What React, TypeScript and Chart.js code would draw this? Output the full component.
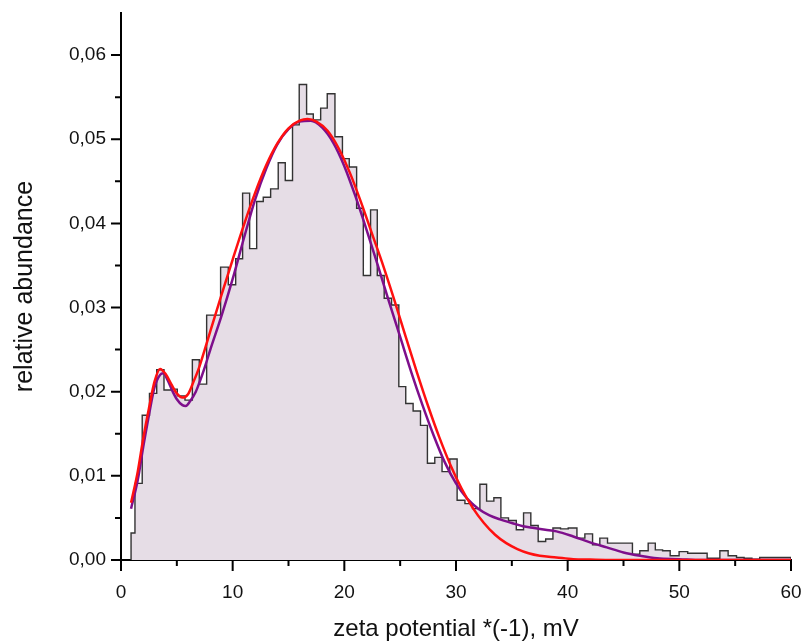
import React, { useEffect, useRef } from "react";
import { Chart, registerables } from "chart.js";

Chart.register(...registerables);

// Histogram: left edge of each bin (mV) and its relative abundance
const HIST_EDGES = [0.90, 1.25, 1.90, 2.55, 3.20, 3.85, 4.50, 5.04, 5.73, 6.39, 7.01, 7.67, 8.30, 8.92, 9.61, 10.27, 10.89, 11.52, 12.15, 12.74, 13.40, 14.08, 14.71, 15.36, 15.96, 16.62, 17.22, 17.88, 18.47, 19.16, 19.83, 20.44, 21.10, 21.70, 22.35, 22.95, 23.57, 24.23, 24.88, 25.50, 26.16, 26.82, 27.44, 28.10, 28.75, 29.44, 30.10, 30.80, 31.48, 32.14, 32.74, 33.39, 34.02, 34.70, 35.40, 36.05, 36.70, 37.36, 38.03, 38.68, 39.36, 40.05, 40.83, 41.54, 42.23, 42.88, 43.57, 44.30, 45.05, 45.80, 46.46, 47.21, 47.85, 48.50, 49.18, 49.98, 50.75, 51.48, 52.49, 53.05, 53.63, 54.37, 55.12, 55.80, 56.50, 57.20, 57.90, 58.60, 59.30];
const HIST_END = 60.0;
const HIST_VALUES = [0.0032, 0.0091, 0.0172, 0.0198, 0.0226, 0.0202, 0.0203, 0.0195, 0.0190, 0.0238, 0.0209, 0.0291, 0.0291, 0.0348, 0.0327, 0.0358, 0.0436, 0.0370, 0.0426, 0.0431, 0.0441, 0.0472, 0.0451, 0.0517, 0.0565, 0.0530, 0.0523, 0.0537, 0.0554, 0.0503, 0.0477, 0.0467, 0.0418, 0.0338, 0.0416, 0.0338, 0.0311, 0.0303, 0.0206, 0.0186, 0.0177, 0.0160, 0.0115, 0.0122, 0.0105, 0.0120, 0.0071, 0.0067, 0.0061, 0.0090, 0.0070, 0.0074, 0.0050, 0.0047, 0.0036, 0.0056, 0.0041, 0.0022, 0.0025, 0.0038, 0.0037, 0.0038, 0.0026, 0.0031, 0.0018, 0.0026, 0.0020, 0.0020, 0.0020, 0.0007, 0.0011, 0.0020, 0.0012, 0.0011, 0.0005, 0.0010, 0.0008, 0.0008, 0.0002, 0.0002, 0.0011, 0.0005, 0.0003, 0.0002, 0.0001, 0.0003, 0.0003, 0.0003, 0.0003];

// Red fitted curve
const RED_X = [0.9, 1.5, 2.0, 2.5, 3.0, 3.5, 4.0, 4.5, 5.0, 5.5, 6.0, 6.5, 7.0, 7.5, 8.0, 9.0, 10.0, 11.0, 12.0, 13.0, 14.0, 15.0, 16.0, 16.7, 17.5, 18.5, 19.5, 20.5, 21.5, 22.5, 23.5, 24.5, 25.5, 26.5, 27.5, 28.5, 29.5, 30.5, 31.5, 32.5, 33.5, 34.5, 35.5, 36.5, 37.5, 39.0, 40.5, 42.0, 44.0, 47.0, 50.0, 55.0, 60.0];
const RED_Y = [0.0068, 0.0105, 0.0145, 0.0180, 0.0212, 0.0227, 0.0221, 0.0209, 0.0198, 0.0193, 0.0197, 0.0212, 0.0229, 0.0250, 0.0272, 0.0315, 0.0357, 0.0398, 0.0436, 0.0469, 0.0495, 0.0513, 0.0522, 0.0524, 0.0521, 0.0510, 0.0489, 0.0460, 0.0425, 0.0387, 0.0349, 0.0308, 0.0265, 0.0223, 0.0183, 0.0146, 0.0113, 0.0085, 0.0062, 0.0044, 0.0030, 0.0020, 0.0013, 0.0008, 0.0005, 0.0003, 0.0001, 0.00005, 0, 0, 0, 0, 0];

// Purple fitted curve
const PURPLE_X = [0.9, 1.5, 2.0, 2.5, 3.0, 3.5, 3.8, 4.2, 4.6, 5.0, 5.5, 5.8, 6.2, 6.7, 7.0, 7.5, 8.0, 9.0, 10.0, 11.0, 12.0, 13.0, 14.0, 15.0, 16.0, 17.0, 18.0, 19.0, 20.0, 21.0, 22.0, 23.0, 24.0, 25.0, 26.0, 27.0, 28.0, 29.0, 30.0, 31.0, 32.0, 33.0, 34.0, 35.0, 36.0, 37.0, 38.0, 39.0, 40.5, 42.0, 43.5, 45.0, 46.5, 48.0, 50.0, 52.0, 56.0, 60.0];
const PURPLE_Y = [0.0061, 0.0095, 0.0135, 0.0172, 0.0205, 0.0220, 0.0222, 0.0213, 0.0201, 0.0191, 0.0184, 0.0183, 0.0189, 0.0200, 0.0210, 0.0229, 0.0250, 0.0290, 0.0334, 0.0382, 0.0428, 0.0465, 0.0494, 0.0512, 0.0521, 0.0522, 0.0514, 0.0496, 0.0468, 0.0432, 0.0392, 0.0350, 0.0307, 0.0265, 0.0223, 0.0184, 0.0148, 0.0116, 0.0091, 0.0073, 0.0061, 0.0053, 0.0048, 0.0044, 0.0040, 0.0038, 0.0036, 0.0034, 0.0028, 0.0021, 0.0015, 0.0009, 0.0005, 0.0002, 0.0001, 0, 0, 0];

const X_TICKS = [0, 10, 20, 30, 40, 50, 60];
const X_MINOR_TICKS = [5, 15, 25, 35, 45, 55];
const Y_TICKS = [0, 0.01, 0.02, 0.03, 0.04, 0.05, 0.06];
const Y_MINOR_TICKS = [0.005, 0.015, 0.025, 0.035, 0.045, 0.055];

const X_TITLE = "zeta potential *(-1), mV";
const Y_TITLE = "relative abundance";

const FONT = "'Liberation Sans', Arial, sans-serif";

const tickMarks = {
  id: "tickMarks",
  afterDraw(chart: any) {
    const { ctx, scales, chartArea } = chart;
    const xs = scales.x;
    const ys = scales.y;
    ctx.save();
    ctx.strokeStyle = "#000";
    ctx.lineWidth = 2;
    ctx.beginPath();
    const b = chartArea.bottom;
    const l = chartArea.left;
    X_TICKS.forEach((v) => {
      const p = xs.getPixelForValue(v);
      ctx.moveTo(p, b);
      ctx.lineTo(p, b + 11);
    });
    X_MINOR_TICKS.forEach((v) => {
      const p = xs.getPixelForValue(v);
      ctx.moveTo(p, b);
      ctx.lineTo(p, b + 6);
    });
    Y_TICKS.forEach((v) => {
      const p = ys.getPixelForValue(v);
      ctx.moveTo(l - 10, p);
      ctx.lineTo(l, p);
    });
    Y_MINOR_TICKS.forEach((v) => {
      const p = ys.getPixelForValue(v);
      ctx.moveTo(l - 6, p);
      ctx.lineTo(l, p);
    });
    ctx.stroke();
    ctx.restore();
  },
};

export default function App() {
  const canvasRef = useRef<HTMLCanvasElement | null>(null);

  useEffect(() => {
    if (!canvasRef.current) return;
    const histPoints = [
      { x: HIST_EDGES[0], y: 0 },
      ...HIST_EDGES.map((e, i) => ({ x: e, y: HIST_VALUES[i] })),
      { x: HIST_END, y: 0 },
    ];
    const redPoints = RED_X.map((x, i) => ({ x, y: RED_Y[i] }));
    const purplePoints = PURPLE_X.map((x, i) => ({ x, y: PURPLE_Y[i] }));

    const chart = new Chart(canvasRef.current, {
      type: "line",
      data: {
        datasets: [
          {
            label: "fit 2",
            data: redPoints,
            borderColor: "#ff1010",
            borderWidth: 2.5,
            pointRadius: 0,
            fill: false,
            cubicInterpolationMode: "monotone",
            order: 0,
          },
          {
            label: "fit 1",
            data: purplePoints,
            borderColor: "#7e0f8c",
            borderWidth: 2.5,
            pointRadius: 0,
            fill: false,
            cubicInterpolationMode: "monotone",
            order: 1,
          },
          {
            label: "histogram",
            data: histPoints,
            stepped: "before",
            borderColor: "#333333",
            borderWidth: 1.4,
            backgroundColor: "#e6dde6",
            fill: "origin",
            pointRadius: 0,
            order: 2,
          },
        ],
      },
      options: {
        responsive: false,
        maintainAspectRatio: false,
        animation: false,
        layout: { padding: { left: 0, right: 14, top: 13, bottom: 0 } },
        plugins: {
          legend: { display: false },
          tooltip: { enabled: false },
        },
        scales: {
          x: {
            type: "linear",
            min: 0,
            max: 60,
            afterBuildTicks: (scale: any) => {
              scale.ticks = X_TICKS.map((v) => ({ value: v }));
            },
            afterFit: (scale: any) => {
              scale.height = 81;
              scale.paddingLeft = 0;
              scale.paddingRight = 0;
            },
            grid: { display: true, drawOnChartArea: false, drawTicks: false },
            border: { display: true, color: "#000", width: 2 },
            ticks: {
              padding: 21,
              maxRotation: 0,
              color: "#111",
              font: { family: FONT, size: 19 },
              callback: (v: any) => String(v),
            },
            title: {
              display: true,
              text: X_TITLE,
              color: "#111",
              font: { family: FONT, size: 24 },
              padding: { top: 0, bottom: -3 },
            },
          },
          y: {
            type: "linear",
            min: 0,
            max: 0.065,
            afterBuildTicks: (scale: any) => {
              scale.ticks = Y_TICKS.map((v) => ({ value: v }));
            },
            afterFit: (scale: any) => {
              scale.width = 121;
              scale.paddingTop = 0;
              scale.paddingBottom = 0;
            },
            grid: { display: true, drawOnChartArea: false, drawTicks: false },
            border: { display: true, color: "#000", width: 2 },
            ticks: {
              padding: 15,
              color: "#111",
              font: { family: FONT, size: 19 },
              callback: (v: any) => Number(v).toFixed(2).replace(".", ","),
            },
            title: {
              display: true,
              text: Y_TITLE,
              color: "#111",
              font: { family: FONT, size: 25 },
              padding: { top: 10, bottom: 0 },
            },
          },
        },
      },
      plugins: [tickMarks],
    } as any);

    return () => chart.destroy();
  }, []);

  return (
    <div style={{ position: "absolute", left: 0, top: 0, width: 805, height: 641, background: "#fff" }}>
      <canvas ref={canvasRef} width={805} height={641} style={{ display: "block" }} />
    </div>
  );
}
